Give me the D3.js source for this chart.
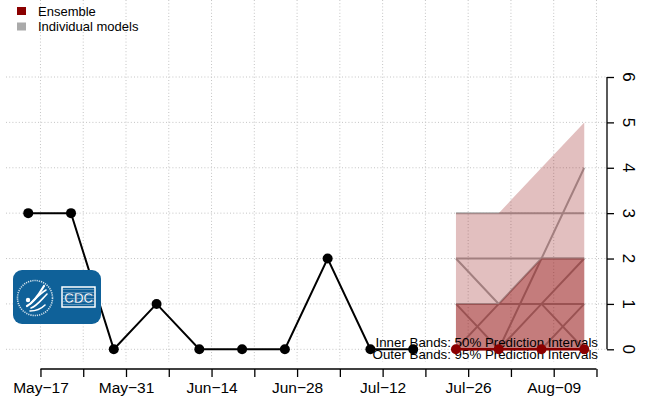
<!DOCTYPE html>
<html><head><meta charset="utf-8">
<script src="https://cdn.jsdelivr.net/npm/d3@7"></script>
<style>
html,body{margin:0;padding:0;background:#fff;}
svg{display:block;font-family:"Liberation Sans",Arial,sans-serif;}
</style></head><body>
<svg id="c" width="647" height="402"></svg>
<script>
// ---- data ----
const obsDates = ["2021-05-15","2021-05-22","2021-05-29","2021-06-05","2021-06-12","2021-06-19","2021-06-26","2021-07-03","2021-07-10","2021-07-17"];
const obsValues = [3,3,0,1,0,0,0,2,0,0];
const fcDates = ["2021-07-24","2021-07-31","2021-08-07","2021-08-14"];
const ensemblePoint = [0,0,0,0];
const inner50Lower = [0,0,0,0];
const inner50Upper = [1,1,2,2];
const outer95Lower = [0,0,0,0];
const outer95Upper = [3,3,4,5];
const modelForecasts = [
  [3,3,3,3],[2,2,2,2],[1,1,1,1],[2,1,2,4],[1,0,2,2],[0,1,1,0],[0,0,1,2],[0,0,0,1],[0,0,0,0]
];
const xTickDates = ["2021-05-17","2021-05-24","2021-05-31","2021-06-07","2021-06-14","2021-06-21","2021-06-28","2021-07-05","2021-07-12","2021-07-19","2021-07-26","2021-08-02","2021-08-09","2021-08-16"];
const xLabelEvery = 2;
const yTicks = [0,1,2,3,4,5,6];
const legendItems = [{label:"Ensemble", color:"#8b0000"},{label:"Individual models", color:"#aaaaaa"}];
const notes = ["Inner Bands: 50% Prediction Intervals","Outer Bands: 95% Prediction Intervals"];

// ---- scales ----
const parse = d3.utcParse("%Y-%m-%d");
const fmt = d3.utcFormat("%b-%d");
const svg = d3.select("#c");
const allDates = obsDates.concat(fcDates).map(parse);
const [d0,d1] = d3.extent(allDates);
const pad = (d1 - d0) * 0.04;
const x = d3.scaleUtc().domain([new Date(+d0 - pad), new Date(+d1 + pad)]).range([6, 606.5]);
const y = d3.scaleLinear().domain([0,6]).range([349.3, 77]);

// ---- grid ----
const grid = svg.append("g").attr("stroke","#c4c4c4").attr("stroke-width",1).attr("stroke-dasharray","1,2.2");
xTickDates.map(parse).forEach(d=>{
  grid.append("line").attr("x1",x(d)).attr("x2",x(d)).attr("y1",0).attr("y2",362);
});
yTicks.forEach(v=>{
  grid.append("line").attr("x1",6).attr("x2",606).attr("y1",y(v)).attr("y2",y(v));
});

// ---- individual models (under bands) ----
const fd = fcDates.map(parse);
const line = d3.line().x(d=>x(d[0])).y(d=>y(d[1]));
const mg = svg.append("g");
modelForecasts.forEach(m=>{
  mg.append("path").attr("d", line(m.map((v,i)=>[fd[i],v])))
    .attr("fill","none").attr("stroke","#aaaaaa").attr("stroke-width",2);
});

// ---- bands ----
const area = d3.area().x(d=>x(d.d)).y0(d=>y(d.lo)).y1(d=>y(d.hi));
svg.append("path").attr("d", area(fd.map((d,i)=>({d, lo:outer95Lower[i], hi:outer95Upper[i]}))))
  .attr("fill","rgba(139,0,0,0.25)");
svg.append("path").attr("d", area(fd.map((d,i)=>({d, lo:inner50Lower[i], hi:inner50Upper[i]}))))
  .attr("fill","rgba(139,0,0,0.35)");

// ---- observed ----
const od = obsDates.map(parse);
const obsPts = od.map((d,i)=>[d, obsValues[i]]);
svg.append("path").attr("d", line(obsPts)).attr("fill","none").attr("stroke","#000").attr("stroke-width",2);
svg.selectAll("circle.obs").data(obsPts).enter().append("circle").attr("class","obs")
  .attr("cx",d=>x(d[0])).attr("cy",d=>y(d[1])).attr("r",5).attr("fill","#000");

// ---- notes ----
svg.append("g").selectAll("text").data(notes).enter().append("text")
  .attr("x",598).attr("y",(d,i)=>346.5+i*12.5).attr("text-anchor","end")
  .attr("font-size","13.3px").attr("fill","#000").text(d=>d);

// ---- ensemble ----
const ensPts = fd.map((d,i)=>[d, ensemblePoint[i]]);
svg.append("path").attr("d", line(ensPts)).attr("fill","none").attr("stroke","#8b0000").attr("stroke-width",2.5);
svg.selectAll("circle.ens").data(ensPts).enter().append("circle").attr("class","ens")
  .attr("cx",d=>x(d[0])).attr("cy",d=>y(d[1])).attr("r",5).attr("fill","#8b0000");

// ---- x axis ----
const xt = xTickDates.map(parse);
const xAxis = d3.axisBottom(x).tickValues(xt).tickSize(8).tickPadding(5)
  .tickFormat((d,i)=> i % xLabelEvery === 0 ? fmt(d).replace("-","\u2212") : "");
const gx = svg.append("g").attr("transform","translate(0,369)").call(xAxis);
gx.attr("font-size",null).attr("font-family",null);
gx.select(".domain").attr("stroke","#000").attr("stroke-width",1.3).attr("d",`M${x(xt[0])},0H${x(xt[xt.length-1])}`);
gx.selectAll(".tick line").attr("stroke","#000").attr("stroke-width",1.3);
gx.selectAll(".tick text").attr("font-size","15.5px").attr("fill","#000");

// ---- y axis (right) ----
const yAxis = d3.axisRight(y).tickValues(yTicks).tickSize(7).tickFormat("");
const gy = svg.append("g").attr("transform","translate(607,0)").call(yAxis);
gy.select(".domain").attr("stroke","#000").attr("stroke-width",1.3).attr("d",`M0,${y(0)}V${y(6)}`);
gy.selectAll(".tick line").attr("stroke","#000").attr("stroke-width",1.3);
svg.append("g").selectAll("text").data(yTicks).enter().append("text")
  .attr("transform", d=>`translate(629,${y(d)}) rotate(90)`)
  .attr("text-anchor","middle").attr("dy","0.36em")
  .attr("font-size","17px").attr("fill","#000").text(d=>d3.format("d")(d));

// ---- legend ----
const lg = svg.append("g");
legendItems.forEach((it,i)=>{
  lg.append("rect").attr("x",17).attr("y",7+i*15.5).attr("width",9).attr("height",8).attr("fill",it.color);
  lg.append("text").attr("x",38).attr("y",15.5+i*15.5).attr("font-size","13px").attr("fill","#000").text(it.label);
});

// ---- CDC logo ----
const logo = svg.append("g");
const blue = "#0f6199";
logo.append("rect").attr("x",13).attr("y",270).attr("width",88).attr("height",54).attr("rx",9).attr("fill",blue);
logo.append("circle").attr("cx",35).attr("cy",298).attr("r",17.5).attr("fill","none").attr("stroke","#fff").attr("stroke-width",1.6).attr("stroke-dasharray","1.2,1").attr("opacity",0.8);
const eagle = logo.append("g").attr("fill","none").attr("stroke","#fff").attr("stroke-linecap","round");
eagle.append("path").attr("d","M27,306 C33,303 38,296 44,286").attr("stroke-width",2.2);
eagle.append("path").attr("d","M30,304 C35,300 39,294 46,290").attr("stroke-width",1.6);
eagle.append("path").attr("d","M31,308 C37,306 41,300 47,294").attr("stroke-width",1.6);
eagle.append("path").attr("d","M30,311 C36,311 41,309 45,305").attr("stroke-width",1.6);
eagle.append("circle").attr("cx",28).attr("cy",300).attr("r",2.2).attr("fill","#fff").attr("stroke","none");
logo.append("rect").attr("x",62).attr("y",287).attr("width",33).attr("height",20).attr("fill",blue).attr("stroke","#fff").attr("stroke-width",1.5);
for(let k=0;k<6;k++){
  logo.append("line").attr("x1",63).attr("x2",94).attr("y1",289.5+k*3).attr("y2",289.5+k*3).attr("stroke","#fff").attr("stroke-width",0.6).attr("opacity",0.5);
}
logo.append("text").attr("x",78.5).attr("y",303).attr("text-anchor","middle").attr("font-size","14px").attr("font-weight","bold")
  .attr("fill","#fff").attr("stroke",blue).attr("stroke-width",0.6).attr("letter-spacing","-0.5").text("CDC");
</script>
</body></html>
